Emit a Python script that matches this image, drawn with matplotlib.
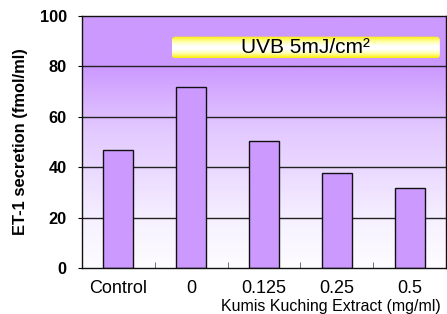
import matplotlib.pyplot as plt
import numpy as np
from matplotlib.patches import FancyBboxPatch
from matplotlib.colors import LinearSegmentedColormap

categories = ['Control', '0', '0.125', '0.25', '0.5']
values = [47, 72, 50.5, 37.6, 31.6]
y_ticks = [0, 20, 40, 60, 80, 100]

plt.rcParams['font.family'] = ['Liberation Sans', 'DejaVu Sans']

fig = plt.figure(figsize=(4.47, 3.14), dpi=100)
ax = fig.add_axes([0.1834, 0.1465, 0.8144, 0.8025])

# purple to white background gradient
bg = LinearSegmentedColormap.from_list('bg', [(0, '#fdfcff'), (0.15, '#f8f4ff'),
                                             (0.55, '#e2c8ff'), (0.8, '#cc99ff'), (1, '#cc99ff')])
grad = np.linspace(0, 1, 256).reshape(-1, 1)
ax.imshow(grad, cmap=bg, aspect='auto', origin='lower',
          extent=[-0.5, 4.5, 0, 100], zorder=0)

for y in y_ticks[1:-1]:
    ax.axhline(y, color='#222222', lw=1, zorder=1)

x = np.arange(len(categories))
ax.bar(x, values, width=0.41, color='#cc99ff', edgecolor='#111111', lw=1, zorder=2)

ax.set_xlim(-0.5, 4.5)
ax.set_ylim(0, 100)
ax.set_yticks(y_ticks)
ax.set_yticklabels([str(v) for v in y_ticks], fontweight='bold', fontsize=11.8)
ax.set_xticks(x)
ax.set_xticklabels(categories, fontsize=13)
ax.tick_params(axis='x', length=0, pad=9)
ax.set_xticks(np.arange(0.5, 4.5, 1), minor=True)
ax.tick_params(axis='x', which='minor', direction='in', length=4, color='#555555')
ax.tick_params(axis='y', length=3, pad=8)
for s in ax.spines.values():
    s.set_color('#111111')
    s.set_linewidth(1)

ax.set_ylabel('ET-1 secretion (fmol/ml)', fontweight='bold', fontsize=11.9)
ax.yaxis.set_label_coords(-0.148, 0.5)
fig.text(0.985, 0.0, 'Kumis Kuching Extract (mg/ml)', ha='right', va='bottom', fontsize=11.5)

# yellow label box with vertical gradient
bx0, by0, bw, bh = 0.247, 0.832, 0.736, 0.086
box = FancyBboxPatch((bx0, by0), bw, bh, boxstyle='round,pad=0,rounding_size=0.012',
                     transform=ax.transAxes, facecolor='none', edgecolor='none', zorder=3)
ax.add_patch(box)
yg = LinearSegmentedColormap.from_list('yg', [(0, '#ffee00'), (0.25, '#ffffaa'), (0.45, '#ffffff'),
                                             (0.6, '#ffffff'), (0.8, '#ffffaa'), (1, '#ffee00')])
gim = ax.imshow(np.linspace(0, 1, 64).reshape(-1, 1), cmap=yg, aspect='auto',
                extent=[-0.5 + bx0 * 5, -0.5 + (bx0 + bw) * 5, by0 * 100, (by0 + bh) * 100],
                zorder=3)
gim.set_clip_path(box)
ax.text(bx0 + bw / 2, by0 + bh / 2, 'UVB 5mJ/cm\u00b2', transform=ax.transAxes,
        ha='center', va='center', fontsize=15, zorder=4)

ax.set_xlim(-0.5, 4.5)
ax.set_ylim(0, 100)
fig.savefig('out.png', dpi=100)
